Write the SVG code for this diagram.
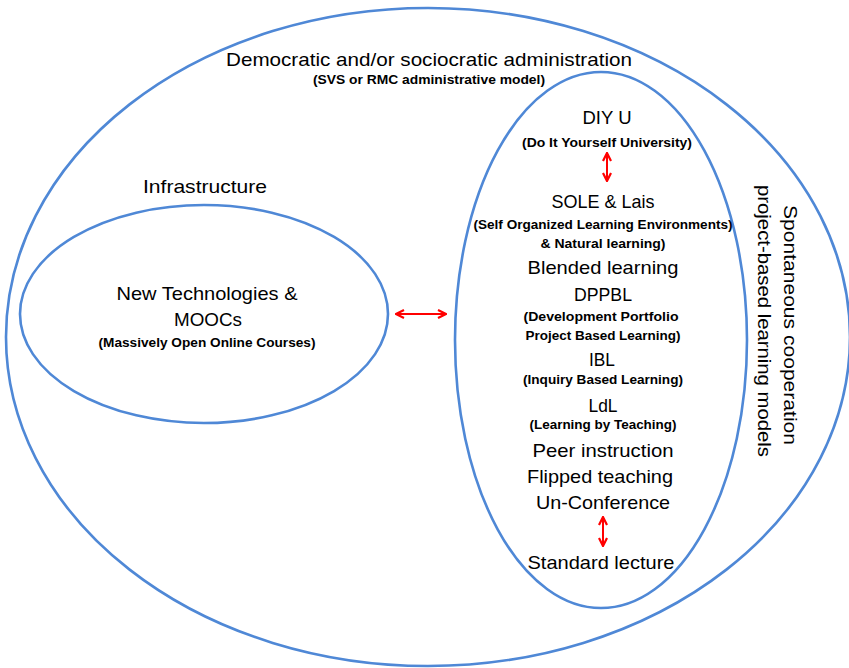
<svg xmlns="http://www.w3.org/2000/svg" width="849" height="668" viewBox="0 0 849 668">
<defs>
<style>
.shape{fill:none;stroke:#4f88d6;stroke-width:2.6}
.t{font-family:"Liberation Sans",Arial,sans-serif;font-size:18.5px;fill:#000;text-anchor:middle}
.s{font-family:"Liberation Sans",Arial,sans-serif;font-size:12.5px;font-weight:bold;fill:#000;text-anchor:middle}
.arr{stroke:#ff0000;stroke-width:2;fill:none;marker-start:url(#ah);marker-end:url(#ah)}
</style>
<marker id="ah" viewBox="0 0 10 10" refX="9" refY="5" markerWidth="5" markerHeight="5" orient="auto-start-reverse" markerUnits="strokeWidth">
<path d="M1,1 L9,5 L1,9" fill="none" stroke="#ff0000" stroke-width="2.2"/>
</marker>
</defs>
<rect width="849" height="668" fill="#fff"/>
<g id="administration">
<ellipse class="shape" cx="428" cy="337" rx="422" ry="329"/>
<text class="t" x="429" y="66" textLength="406" lengthAdjust="spacingAndGlyphs">Democratic and/or sociocratic administration</text>
<text class="s" x="429" y="84" textLength="232" lengthAdjust="spacingAndGlyphs">(SVS or RMC administrative model)</text>
</g>
<g id="infrastructure">
<ellipse class="shape" cx="204" cy="314" rx="184" ry="109"/>
<text class="t" x="205" y="193" textLength="124" lengthAdjust="spacingAndGlyphs">Infrastructure</text>
<text class="t" x="207" y="300" textLength="181" lengthAdjust="spacingAndGlyphs">New Technologies &amp;</text>
<text class="t" x="208" y="326" textLength="68" lengthAdjust="spacingAndGlyphs">MOOCs</text>
<text class="s" x="207" y="347" textLength="217" lengthAdjust="spacingAndGlyphs">(Massively Open Online Courses)</text>
</g>
<g id="models">
<ellipse class="shape" cx="601" cy="340" rx="146" ry="268"/>
<text class="t" x="607" y="124" textLength="49" lengthAdjust="spacingAndGlyphs">DIY U</text>
<text class="s" x="607" y="147" textLength="170" lengthAdjust="spacingAndGlyphs">(Do It Yourself University)</text>
<text class="t" x="603" y="208" textLength="103" lengthAdjust="spacingAndGlyphs">SOLE &amp; Lais</text>
<text class="s" x="603" y="229" textLength="259" lengthAdjust="spacingAndGlyphs">(Self Organized Learning Environments)</text>
<text class="s" x="603" y="248" textLength="125" lengthAdjust="spacingAndGlyphs">&amp; Natural learning)</text>
<text class="t" x="603" y="274" textLength="151" lengthAdjust="spacingAndGlyphs">Blended learning</text>
<text class="t" x="603" y="301" textLength="58" lengthAdjust="spacingAndGlyphs">DPPBL</text>
<text class="s" x="601" y="321" textLength="155" lengthAdjust="spacingAndGlyphs">(Development Portfolio</text>
<text class="s" x="603" y="340" textLength="155" lengthAdjust="spacingAndGlyphs">Project Based Learning)</text>
<text class="t" x="602" y="366" textLength="26" lengthAdjust="spacingAndGlyphs">IBL</text>
<text class="s" x="603" y="384" textLength="160" lengthAdjust="spacingAndGlyphs">(Inquiry Based Learning)</text>
<text class="t" x="603" y="412" textLength="29" lengthAdjust="spacingAndGlyphs">LdL</text>
<text class="s" x="603" y="429" textLength="147" lengthAdjust="spacingAndGlyphs">(Learning by Teaching)</text>
<text class="t" x="603" y="457" textLength="141" lengthAdjust="spacingAndGlyphs">Peer instruction</text>
<text class="t" x="600" y="483" textLength="146" lengthAdjust="spacingAndGlyphs">Flipped teaching</text>
<text class="t" x="603" y="509" textLength="134" lengthAdjust="spacingAndGlyphs">Un-Conference</text>
<text class="t" x="601" y="569" textLength="147" lengthAdjust="spacingAndGlyphs">Standard lecture</text>
</g>
<g id="cooperation">
<text class="t" transform="translate(784,325) rotate(90)" x="0" y="0" textLength="240" lengthAdjust="spacingAndGlyphs">Spontaneous cooperation</text>
<text class="t" transform="translate(758,321) rotate(90)" x="0" y="0" textLength="272" lengthAdjust="spacingAndGlyphs">project-based learning models</text>
</g>
<g id="connectors">
<line class="arr" x1="396" y1="314" x2="446" y2="314"/>
<line class="arr" x1="607" y1="153" x2="607" y2="181"/>
<line class="arr" x1="603" y1="517" x2="603" y2="546"/>
</g>
</svg>
